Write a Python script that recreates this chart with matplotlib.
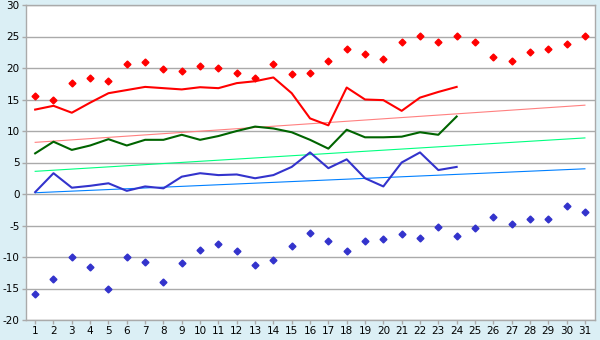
import matplotlib
matplotlib.use("Agg")
import matplotlib.pyplot as plt

plt.rcParams["axes.unicode_minus"] = False

days = list(range(1, 32))
max_pts = [15.5, 15.0, 17.6, 18.4, 18.0, 20.6, 20.9, 19.8, 19.5, 20.3,
           20.0, 19.2, 18.4, 20.6, 19.0, 19.2, 21.1, 23.0, 22.2, 21.5,
           24.1, 25.1, 24.1, 25.1, 24.1, 21.7, 21.1, 22.5, 23.0, 23.8, 25.1]
min_pts = [-15.8, -13.5, -10.0, -11.6, -15.1, -10.0, -10.8, -14.0, -11.0, -8.9,
           -7.9, -9.0, -11.2, -10.5, -8.3, -6.2, -7.5, -9.0, -7.5, -7.1,
           -6.35, -7.0, -5.3, -6.6, -5.4, -3.7, -4.8, -4.0, -4.0, -1.95, -2.9]
line_days = list(range(1, 25))
high_line = [13.4, 14.0, 12.9, 14.5, 16.0, 16.5, 17.0, 16.8, 16.6, 16.95,
             16.8, 17.6, 17.9, 18.5, 16.0, 12.0, 10.9, 16.9, 15.0, 14.9,
             13.2, 15.3, 16.2, 17.0]
mean_line = [6.45, 8.3, 7.0, 7.7, 8.7, 7.7, 8.6, 8.6, 9.4, 8.6,
             9.2, 10.0, 10.7, 10.4, 9.8, 8.6, 7.2, 10.2, 9.0, 9.0,
             9.1, 9.8, 9.4, 12.3]
low_line = [0.3, 3.3, 1.0, 1.3, 1.7, 0.5, 1.2, 0.9, 2.75, 3.3,
            3.0, 3.1, 2.5, 3.0, 4.3, 6.6, 4.1, 5.5, 2.5, 1.2,
            5.0, 6.6, 3.8, 4.3]
trend_days = [1, 31]
trend_high = [8.2, 14.1]
trend_mean = [3.6, 8.9]
trend_low = [0.2, 4.0]
y_ticks = list(range(-20, 31, 5))

bg = "#DBEFF5"
fig = plt.figure(figsize=(6, 3.4), dpi=100, facecolor=bg)
ax = fig.add_axes([26/600, 20/340, 569/600, 315/340])
ax.set_facecolor("white")

ax.set_xlim(0.5, 31.55)
ax.set_ylim(-20, 30)
ax.set_yticks(y_ticks)
ax.set_xticks(days)
ax.grid(axis="y", color="#AAAAAA", linewidth=1.0)
ax.set_axisbelow(True)
for s in ax.spines.values():
    s.set_color("#AAAAAA")
    s.set_linewidth(1.0)
ax.tick_params(colors="#AAAAAA", labelcolor="black", labelsize=7.5, length=3, width=1, pad=1.5)

ax.plot(trend_days, trend_high, color="#FF8080", lw=0.8)
ax.plot(trend_days, trend_mean, color="#00FF80", lw=0.8)
ax.plot(trend_days, trend_low, color="#0080FF", lw=0.8)

ax.plot(line_days, high_line, color="#FF0000", lw=1.5)
ax.plot(line_days, mean_line, color="#006400", lw=1.5)
ax.plot(line_days, low_line, color="#3333CC", lw=1.5)

ax.plot(days, max_pts, linestyle="none", marker="D", markersize=3.5, color="#FF0000")
ax.plot(days, min_pts, linestyle="none", marker="D", markersize=3.5, color="#3333CC")

fig.savefig("out.png", dpi=100, facecolor=bg)
